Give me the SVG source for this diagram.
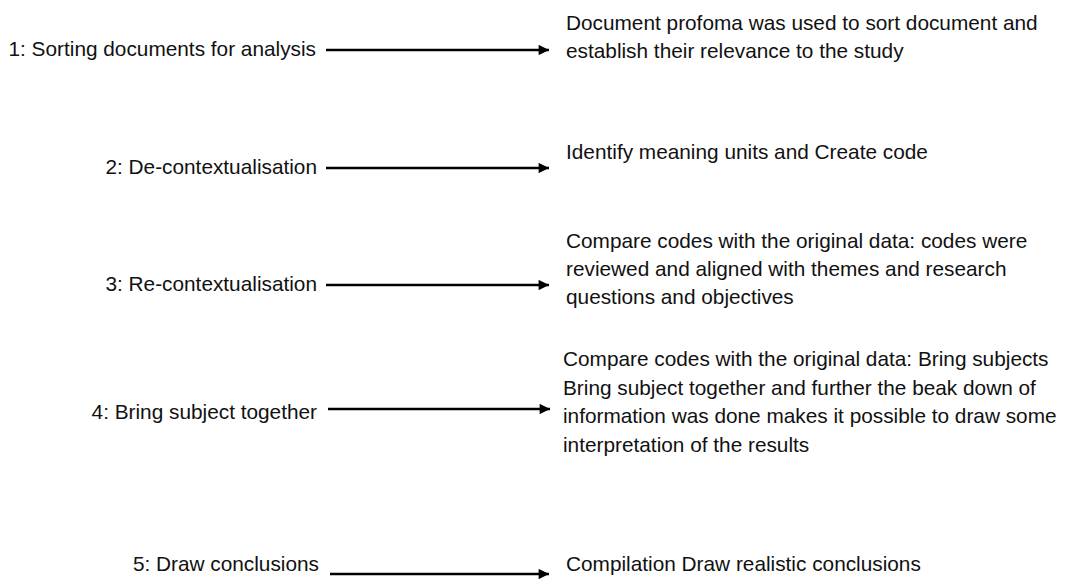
<svg xmlns="http://www.w3.org/2000/svg" width="1072" height="579" viewBox="0 0 1072 579">
  <style>
    text { font-family: "Liberation Sans", Arial, sans-serif; font-size: 20.8px; fill: #111; }
    .label { text-anchor: end; }
    .arrow { stroke: #000; stroke-width: 2.6; fill: none; marker-end: url(#head); }
  </style>
  <defs>
    <marker id="head" viewBox="0 0 10 10" refX="10" refY="5" markerWidth="4.4" markerHeight="4" orient="auto" markerUnits="strokeWidth">
      <path d="M0,0 L10,5 L0,10 Z" fill="#000"/>
    </marker>
  </defs>
  <rect width="1072" height="579" fill="#fff"/>

  <!-- step labels -->
  <g id="step1"><text class="label" x="316" y="56">1: Sorting documents for analysis</text></g>
  <g id="step2"><text class="label" x="317" y="174">2: De-contextualisation</text></g>
  <g id="step3"><text class="label" x="317" y="291">3: Re-contextualisation</text></g>
  <g id="step4"><text class="label" x="317" y="419">4: Bring subject together</text></g>
  <g id="step5"><text class="label" x="319" y="571">5: Draw conclusions</text></g>

  <!-- step descriptions -->
  <g id="desc1">
    <text x="566" y="30">Document profoma was used to sort document and</text>
    <text x="566" y="58">establish their relevance to the study</text>
  </g>
  <g id="desc2">
    <text x="566" y="159">Identify meaning units and Create code</text>
  </g>
  <g id="desc3">
    <text x="566" y="248">Compare codes with the original data: codes were</text>
    <text x="566" y="276">reviewed and aligned with themes and research</text>
    <text x="566" y="304">questions and objectives</text>
  </g>
  <g id="desc4">
    <text x="563" y="366">Compare codes with the original data: Bring subjects</text>
    <text x="563" y="395">Bring subject together and further the beak down of</text>
    <text x="563" y="423">information was done makes it possible to draw some</text>
    <text x="563" y="452">interpretation of the results</text>
  </g>
  <g id="desc5">
    <text x="566" y="571">Compilation Draw realistic conclusions</text>
  </g>

  <!-- connectors -->
  <g id="connectors">
    <line class="arrow" x1="326" y1="50" x2="549" y2="50"/>
    <line class="arrow" x1="326" y1="168" x2="549" y2="168"/>
    <line class="arrow" x1="326" y1="285" x2="549" y2="285"/>
    <line class="arrow" x1="328" y1="409" x2="550" y2="409"/>
    <line class="arrow" x1="330" y1="574" x2="549" y2="574"/>
  </g>
</svg>
